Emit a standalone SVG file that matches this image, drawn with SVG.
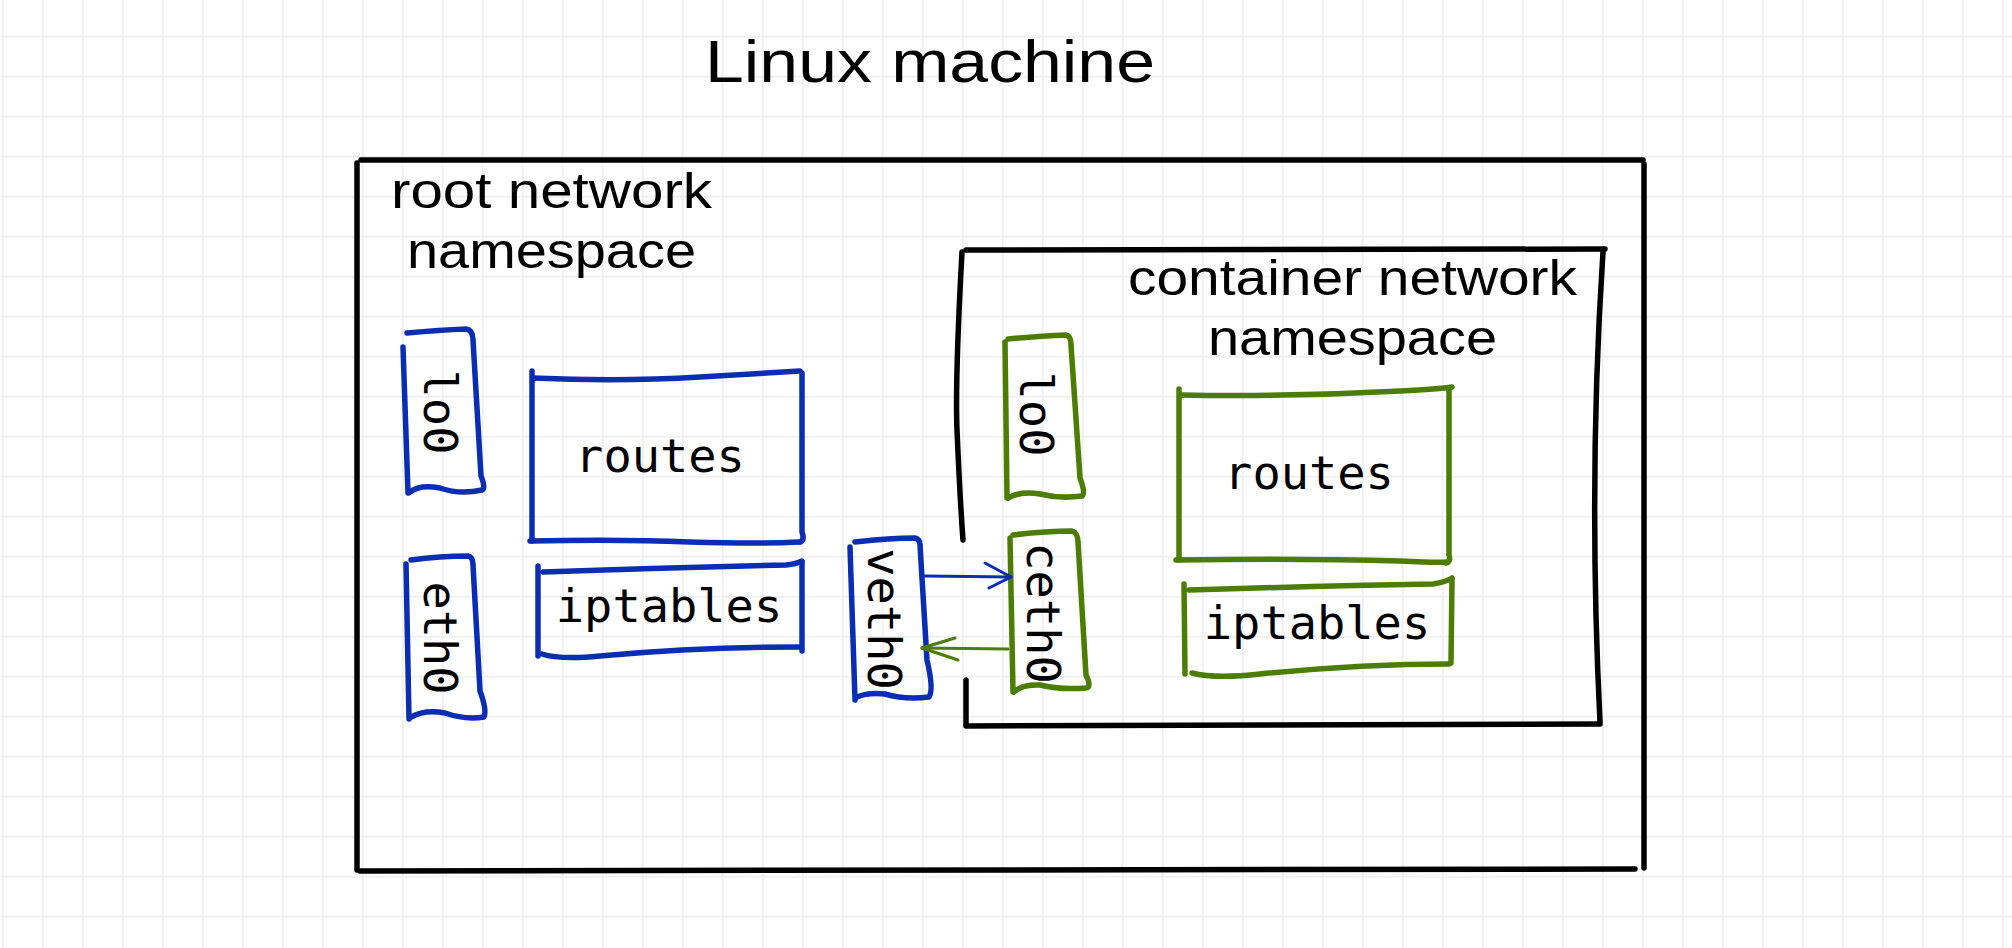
<svg xmlns="http://www.w3.org/2000/svg" width="2012" height="948" viewBox="0 0 2012 948">
<style>
.blk{fill:none;stroke:#000;stroke-width:5.5;stroke-linecap:round;stroke-linejoin:round}
.blu{fill:none;stroke:#0a2db3;stroke-width:5.5;stroke-linecap:round;stroke-linejoin:round}
.grn{fill:none;stroke:#4b7d03;stroke-width:5.5;stroke-linecap:round;stroke-linejoin:round}
.hand{font-family:"Liberation Sans","Noto Sans",sans-serif;fill:#000}
.mono{font-family:"DejaVu Sans Mono","Liberation Mono",monospace;font-size:47px;fill:#000;text-anchor:middle}
.ab{fill:none;stroke:#0a2db3;stroke-width:3;stroke-linecap:round;stroke-linejoin:round}
.ag{fill:none;stroke:#4b7d03;stroke-width:3;stroke-linecap:round;stroke-linejoin:round}
</style>
<defs>
<pattern id="grid" x="-17.3" y="16.7" width="40" height="40" patternUnits="userSpaceOnUse">
<path d="M20,0 V40 M0,20 H40" stroke="#ededed" stroke-width="1.6" fill="none"/>
</pattern>
</defs>
<rect width="2012" height="948" fill="#fff"/>
<rect width="2012" height="948" fill="url(#grid)"/>

<g id="title">
<text class="hand" x="705" y="82" font-size="60" textLength="450" lengthAdjust="spacingAndGlyphs">Linux machine</text>
</g>

<g id="linux-machine">
<path class="blk" d="M361,160 L1643,160"/>
<path class="blk" d="M1644,164 L1644,868"/>
<path class="blk" d="M360,871 L1635,869"/>
<path class="blk" d="M357,163 L357,870"/>
</g>

<g id="root-ns-label">
<text class="hand" x="391" y="208" font-size="50" textLength="321" lengthAdjust="spacingAndGlyphs">root network</text>
<text class="hand" x="407" y="268" font-size="50" textLength="289" lengthAdjust="spacingAndGlyphs">namespace</text>
</g>

<g id="container-ns">
<path class="blk" d="M966,250 L1605,249"/>
<path class="blk" stroke-width="4.5" d="M1603,252 Q1588,480 1600,722"/>
<path class="blk" d="M966,726 L1600,724"/>
<path class="blk" stroke-width="4" d="M962,252 Q955,380 957,430 Q960,500 963,540"/>
<path class="blk" stroke-width="4.5" d="M966,680 L966,724"/>
<text class="hand" x="1128" y="295" font-size="50" textLength="449" lengthAdjust="spacingAndGlyphs">container network</text>
<text class="hand" x="1208" y="355" font-size="50" textLength="289" lengthAdjust="spacingAndGlyphs">namespace</text>
</g>

<g id="root-lo0">
<path class="blu" d="M407,333 Q440,330 466,329 Q473,330 473,340 L481,476 Q486,488 482,490 Q460,495 440,488 Q420,484 410,492"/>
<path class="blu" d="M403,347 L408,493"/>
<text class="mono" transform="translate(441,412) rotate(90)" x="0" y="17">lo0</text>
</g>

<g id="root-eth0">
<path class="blu" d="M411,560 Q440,556 468,556 Q473,557 473,565 L480,691 Q487,710 484,717 Q465,720 445,713 Q425,709 411,717"/>
<path class="blu" d="M406,564 L409,719"/>
<text class="mono" transform="translate(441,638) rotate(90)" x="0" y="17">eth0</text>
</g>

<g id="root-routes">
<path class="blu" d="M533,378 Q620,382 700,377 Q770,373 800,371"/>
<path class="blu" d="M802,373 L802,532 Q805,540 800,542"/>
<path class="blu" d="M530,541 Q620,539 690,542 Q760,544 800,542"/>
<path class="blu" d="M532,371 L532,541"/>
<text class="mono" x="660" y="472">routes</text>
</g>

<g id="root-iptables">
<path class="blu" d="M543,572 Q660,568 786,565 Q796,564 802,561"/>
<path class="blu" d="M802,562 L802,651"/>
<path class="blu" d="M542,654 Q560,660 600,656 Q700,647 801,647"/>
<path class="blu" d="M538,566 L538,656"/>
<text class="mono" x="669" y="622">iptables</text>
</g>

<g id="veth0">
<path class="blu" d="M855,542 Q890,538 915,538 Q920,539 920,545 L927,660 Q934,690 929,697 Q905,700 885,694 Q868,692 857,697"/>
<path class="blu" d="M850,547 L855,700"/>
<text class="mono" transform="translate(886,619) rotate(90)" x="0" y="18">veth0</text>
</g>

<g id="ceth0">
<path class="grn" d="M1013,535 Q1045,531 1072,531 Q1078,533 1078,542 L1086,675 Q1092,687 1086,688 Q1060,690 1040,685 Q1022,684 1014,692"/>
<path class="grn" d="M1010,538 L1013,692"/>
<text class="mono" transform="translate(1044,613) rotate(90)" x="0" y="17">ceth0</text>
</g>

<g id="container-lo0">
<path class="grn" d="M1008,339 Q1040,336 1066,335 Q1071,336 1071,345 L1080,478 Q1086,494 1082,496 Q1060,499 1040,494 Q1020,491 1008,498"/>
<path class="grn" d="M1005,342 L1007,498"/>
<text class="mono" transform="translate(1037,414) rotate(90)" x="0" y="17">lo0</text>
</g>

<g id="container-routes">
<path class="grn" d="M1180,395 Q1290,397 1400,391 Q1440,389 1452,387"/>
<path class="grn" d="M1449,391 L1449,555 Q1451,562 1446,563"/>
<path class="grn" d="M1176,560 Q1300,558 1400,561 Q1440,563 1447,562"/>
<path class="grn" d="M1179,389 L1179,560"/>
<text class="mono" x="1309" y="489">routes</text>
</g>

<g id="container-iptables">
<path class="grn" d="M1189,590 Q1320,586 1433,584 Q1446,582 1452,578"/>
<path class="grn" d="M1452,580 L1451,663"/>
<path class="grn" d="M1192,673 Q1215,679 1260,674 Q1360,664 1449,664"/>
<path class="grn" d="M1184,584 L1185,674"/>
<text class="mono" x="1317" y="639">iptables</text>
</g>

<g id="connectors">
<path class="ab" d="M925,576 L1011,577"/>
<path class="ab" d="M985,563 L1011,577 L989,588"/>
<path class="ag" d="M1008,649 L922,648"/>
<path class="ag" d="M955,638 L922,648 L958,660"/>
</g>
</svg>
